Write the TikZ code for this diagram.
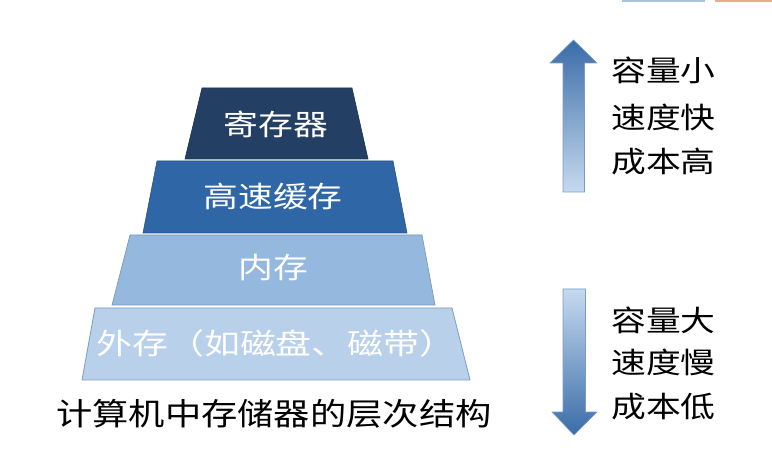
\documentclass[tikz,border=0pt]{standalone}
\usepackage{fontspec}
\usepackage{graphicx}
\newfontfamily\cjk{Noto Sans CJK SC}
\definecolor{lvA}{HTML}{233F63}
\definecolor{lvB}{HTML}{2F66A6}
\definecolor{lvC}{HTML}{95B8DE}
\definecolor{lvD}{HTML}{B8D0EA}
\definecolor{edgeC}{HTML}{7A9CC4}
\definecolor{arDark}{HTML}{3A6CA8}
\definecolor{arLight}{HTML}{C6DAEF}
\definecolor{barBlue}{HTML}{A9C3DC}
\definecolor{barOrange}{HTML}{E7AD90}
\tikzset{
  lvl/.style={draw=#1!80!black, line width=0.6pt, fill=#1},
  wtxt/.style={text=white, font=\cjk\fontsize{29}{29}\selectfont, inner sep=0pt},
  btxt/.style={text=black, font=\cjk\fontsize{29}{29}\selectfont, inner sep=0pt},
  arrowbody/.style={draw=edgeC, line width=0.6pt}
}
\begin{document}
\begin{tikzpicture}[x=1pt,y=-1pt]
\useasboundingbox (0,0) rectangle (772,473);
\fill[white] (0,0) rectangle (772,473);
% top bars (fragments)
\fill[barBlue] (622,0) rectangle (705,2.5);
\fill[barOrange] (715,0) rectangle (772,2.5);
% pyramid levels
\path[lvl=lvA] (202,88) -- (352,88) -- (368,159) -- (185,159) -- cycle;
\path[lvl=lvB] (157,161) -- (393,161) -- (407,233) -- (143,233) -- cycle;
\path[lvl=lvC] (130,235) -- (422,235) -- (435,305) -- (112,305) -- cycle;
\path[draw=edgeC, line width=0.8pt, fill=lvD] (95,308) -- (452,308) -- (470,380) -- (82,380) -- cycle;
% level labels
\node[wtxt] (l1) at (276,124) {\scalebox{1.2}[1]{寄存器}};
\node[wtxt] (l2) at (273,196) {\scalebox{1.2}[1]{高速缓存}};
\node[wtxt] (l3) at (273,268) {\scalebox{1.2}[1]{内存}};
\node[wtxt] (l4) at (276,343) {\scalebox{1.24}[1]{外存（如磁盘、磁带）}};
% caption
\node[btxt, font=\cjk\fontsize{31}{31}\selectfont] (cap) at (274,414) {\scalebox{1.17}[1]{计算机中存储器的层次结构}};
% up arrow
\shade[top color=arDark, bottom color=arLight, arrowbody]
  (573.5,40) -- (597,63) -- (584.5,63) -- (584.5,192) -- (563,192) -- (563,63) -- (550,63) -- cycle;
% down arrow
\shade[top color=arLight, bottom color=arDark, arrowbody]
  (563,289) -- (585.5,289) -- (585.5,412) -- (597,412) -- (574,435) -- (552,412) -- (563,412) -- cycle;
% right texts
\node[btxt, anchor=west] (u1) at (611,70) {\scalebox{1.2}[1]{容量小}};
\node[btxt, anchor=west] (u2) at (611,117) {\scalebox{1.2}[1]{速度快}};
\node[btxt, anchor=west] (u3) at (611,162) {\scalebox{1.2}[1]{成本高}};
\node[btxt, anchor=west] (d1) at (611,320) {\scalebox{1.2}[1]{容量大}};
\node[btxt, anchor=west] (d2) at (611,362) {\scalebox{1.2}[1]{速度慢}};
\node[btxt, anchor=west] (d3) at (611,407) {\scalebox{1.2}[1]{成本低}};
\end{tikzpicture}
\end{document}
